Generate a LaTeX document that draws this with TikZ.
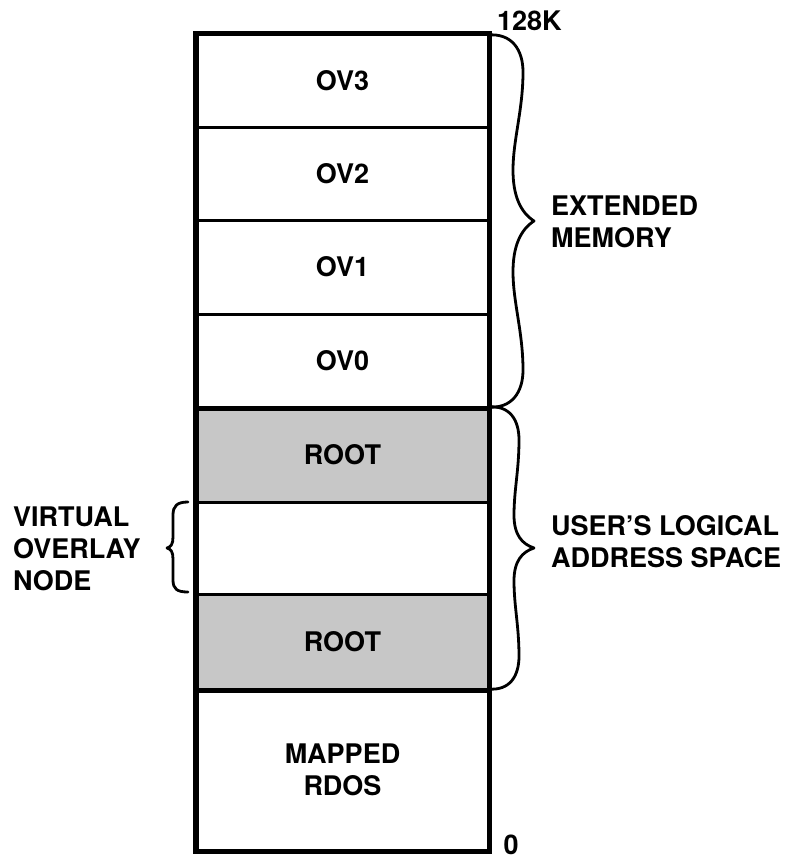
\documentclass[tikz,border=0pt]{standalone}
\usepackage{fontspec}
\setmainfont{TeX Gyre Heros}
\begin{document}
\begin{tikzpicture}[x=1pt,y=-1pt,
  lbl/.style={font=\fontsize{27}{32}\selectfont\bfseries, inner sep=0pt, align=left},
  cell/.style={draw, line width=3pt, minimum width=291pt, inner sep=0pt,
               font=\fontsize{27}{32}\selectfont\bfseries, align=center},
  shaded/.style={fill=black!22},
  br/.style={line width=2.8pt, line cap=round, line join=round},
  heavy/.style={line width=4.2pt}]
\useasboundingbox (0,0) rectangle (787,859);
% column cells
\node[cell, minimum height=92pt] (ov3) at (342.5,81) {OV3};
\node[cell, minimum height=93pt] (ov2) at (342.5,173.5) {OV2};
\node[cell, minimum height=94pt] (ov1) at (342.5,267) {OV1};
\node[cell, minimum height=93pt] (ov0) at (342.5,360.5) {OV0};
\node[cell, shaded, minimum height=95pt] (root1) at (342.5,454.5) {ROOT};
\node[cell, minimum height=92pt] (virt) at (342.5,548) {};
\node[cell, shaded, minimum height=95pt] (root2) at (342.5,641.5) {ROOT};
\node[cell, minimum height=161pt] (rdos) at (342.5,769.5) {MAPPED\\RDOS};
% heavy frame and separators
\draw[heavy] (ov3.north west) rectangle (rdos.south east);
\draw[heavy] (ov0.south west) -- (ov0.south east);
\draw[heavy] (root2.south west) -- (root2.south east);
% range labels
\node[lbl, anchor=base west] (top) at (497,31) {128K};
\node[lbl, anchor=base] (zero) at (511,854) {0};
\node[lbl, anchor=west] (ext) at (551,222) {EXTENDED\\MEMORY};
\node[lbl, anchor=west] (user) at (551,542) {USER'S LOGICAL\\ADDRESS SPACE};
\node[lbl, anchor=west] (von) at (13,549) {VIRTUAL\\OVERLAY\\NODE};
% braces
\draw[br] (488,35) .. controls (512,33) and (523,50) .. (523,72)
  .. controls (523,110) and (513,140) .. (513,170)
  .. controls (513,195) and (520,212) .. (534,221)
  .. controls (520,230) and (513,247) .. (513,272)
  .. controls (513,302) and (523,332) .. (523,370)
  .. controls (523,392) and (512,409) .. (488,407);
\draw[br] (488,407) .. controls (510,405) and (519,420) .. (519,440)
  .. controls (519,470) and (514,490) .. (514,515)
  .. controls (514,535) and (522,544) .. (534,548)
  .. controls (522,552) and (514,561) .. (514,581)
  .. controls (514,606) and (519,626) .. (519,656)
  .. controls (519,676) and (510,691) .. (488,689);
\draw[br] (188,502) .. controls (177,502) and (173,506) .. (173,515) -- (173,537)
  .. controls (173,544) and (171,547) .. (167,548)
  .. controls (171,549) and (173,552) .. (173,559) -- (173,580)
  .. controls (173,589) and (177,592) .. (188,592);
\end{tikzpicture}
\end{document}
